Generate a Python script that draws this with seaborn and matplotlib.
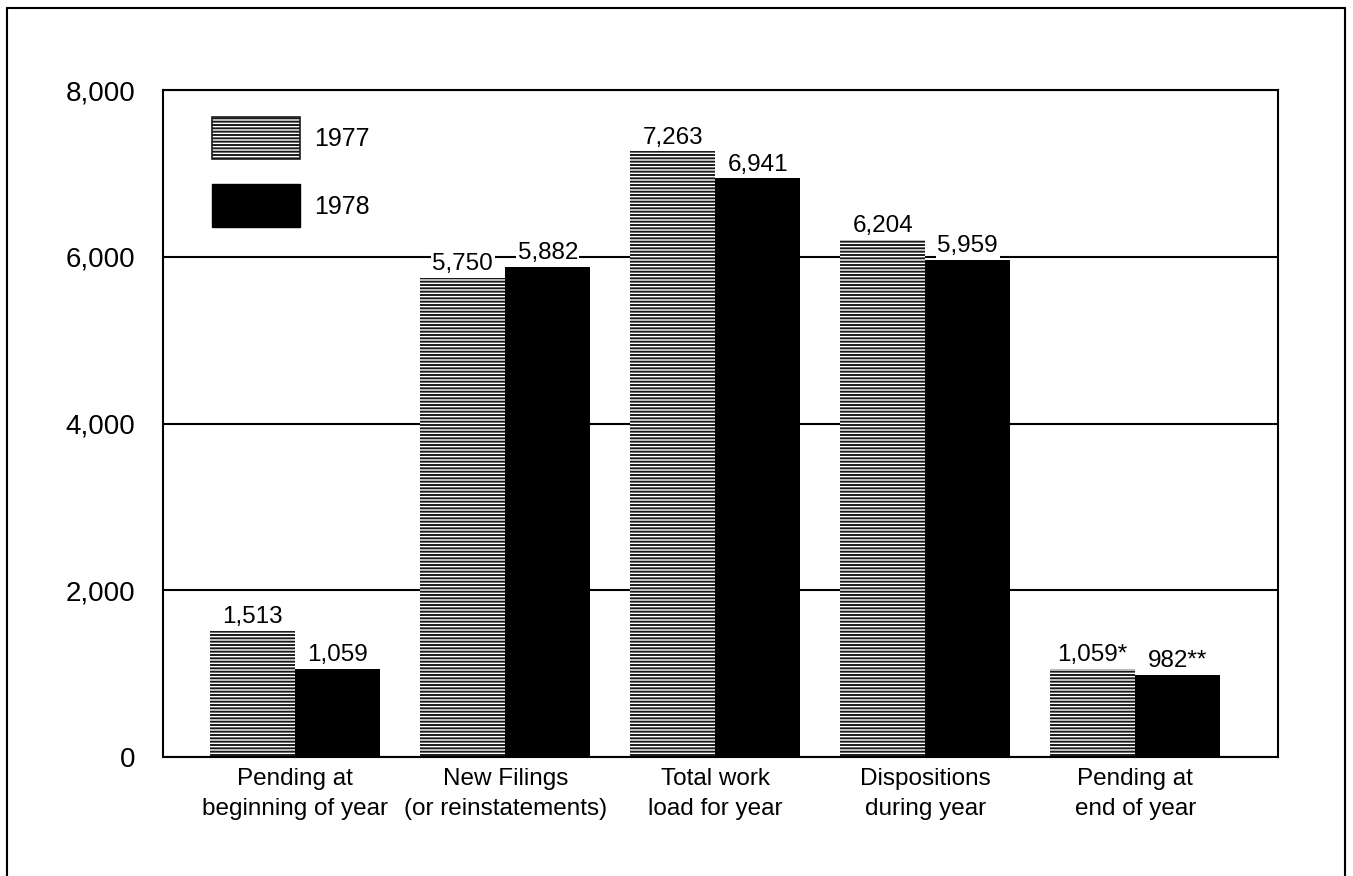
import matplotlib
matplotlib.use("Agg")
import pandas as pd
import seaborn as sns
import matplotlib.pyplot as plt
import matplotlib.patches as mpatches
from matplotlib.lines import Line2D

# data
categories = ["Pending at\nbeginning of year", "New Filings\n(or reinstatements)",
              "Total work\nload for year", "Dispositions\nduring year", "Pending at\nend of year"]
years = ["1977", "1978"]
cases_1977 = [1513, 5750, 7263, 6204, 1059]
cases_1978 = [1059, 5882, 6941, 5959, 982]
labels_1977 = ["1,513", "5,750", "7,263", "6,204", "1,059*"]
labels_1978 = ["1,059", "5,882", "6,941", "5,959", "982**"]
yticks = [0, 2000, 4000, 6000, 8000]

df = pd.DataFrame({
    "category": categories * 2,
    "year": [years[0]] * len(categories) + [years[1]] * len(categories),
    "cases": cases_1977 + cases_1978,
})

sns.set_theme(style="white")
plt.rcParams["font.family"] = ["Liberation Sans", "DejaVu Sans"]
plt.rcParams["hatch.linewidth"] = 1.4
plt.rcParams["text.color"] = "black"

fig = plt.figure(figsize=(13.53, 8.76), dpi=100)
ax = fig.add_axes([0.1205, 0.1358, 0.8241, 0.7614])

sns.barplot(data=df, x="category", y="cases", hue="year",
            palette={"1977": "white", "1978": "black"}, saturation=1,
            width=0.81, legend=False, ax=ax, zorder=2)

# 1977 bars: dense horizontal line fill
for bar in ax.containers[0]:
    bar.set_hatch("-----")
    bar.set_edgecolor("#1a1a1a")
    bar.set_linewidth(0)
for bar in ax.containers[1]:
    bar.set_edgecolor("black")
    bar.set_linewidth(0)

box = dict(facecolor="white", edgecolor="none", pad=1)
ax.bar_label(ax.containers[0], labels=labels_1977, padding=2, fontsize=17.5, bbox=box)
ax.bar_label(ax.containers[1], labels=labels_1978, padding=2, fontsize=17.5, bbox=box)

ax.set_ylim(0, 8000)
ax.set_xlim(-0.63, 4.68)
ax.set_yticks(yticks)
ax.set_yticklabels([f"{v:,}" for v in yticks])
ax.set_axisbelow(True)
ax.yaxis.grid(True, color="black", linewidth=1.5)
ax.xaxis.grid(False)
ax.tick_params(axis="y", length=0, pad=20, labelsize=20, colors="black")
ax.tick_params(axis="x", length=0, pad=8, labelsize=17.5, colors="black")
for lbl in ax.get_xticklabels():
    lbl.set_linespacing(1.45)
ax.set_xlabel("")
ax.set_ylabel("")
for sp in ax.spines.values():
    sp.set_visible(True)
    sp.set_color("black")
    sp.set_linewidth(1.5)

handles = [
    mpatches.Patch(facecolor="white", edgecolor="#1a1a1a", hatch="-----", linewidth=1.2),
    mpatches.Patch(facecolor="black", edgecolor="black"),
]
ax.legend(handles, years, loc="upper left", bbox_to_anchor=(0.044, 0.96),
          frameon=False, fontsize=18, handlelength=3.5, handleheight=2.25,
          labelspacing=1.0, handletextpad=0.6, borderpad=0, borderaxespad=0)

# outer frame around the figure (open at the bottom)
W, H = 1353, 876
frame = dict(transform=fig.transFigure, color="black", linewidth=1.5)
fig.add_artist(Line2D([7 / W, 7 / W], [0, 1 - 8 / H], **frame))
fig.add_artist(Line2D([7 / W, 1345 / W], [1 - 8 / H, 1 - 8 / H], **frame))
fig.add_artist(Line2D([1345 / W, 1345 / W], [0, 1 - 8 / H], **frame))

fig.savefig("out.png", dpi=100)
